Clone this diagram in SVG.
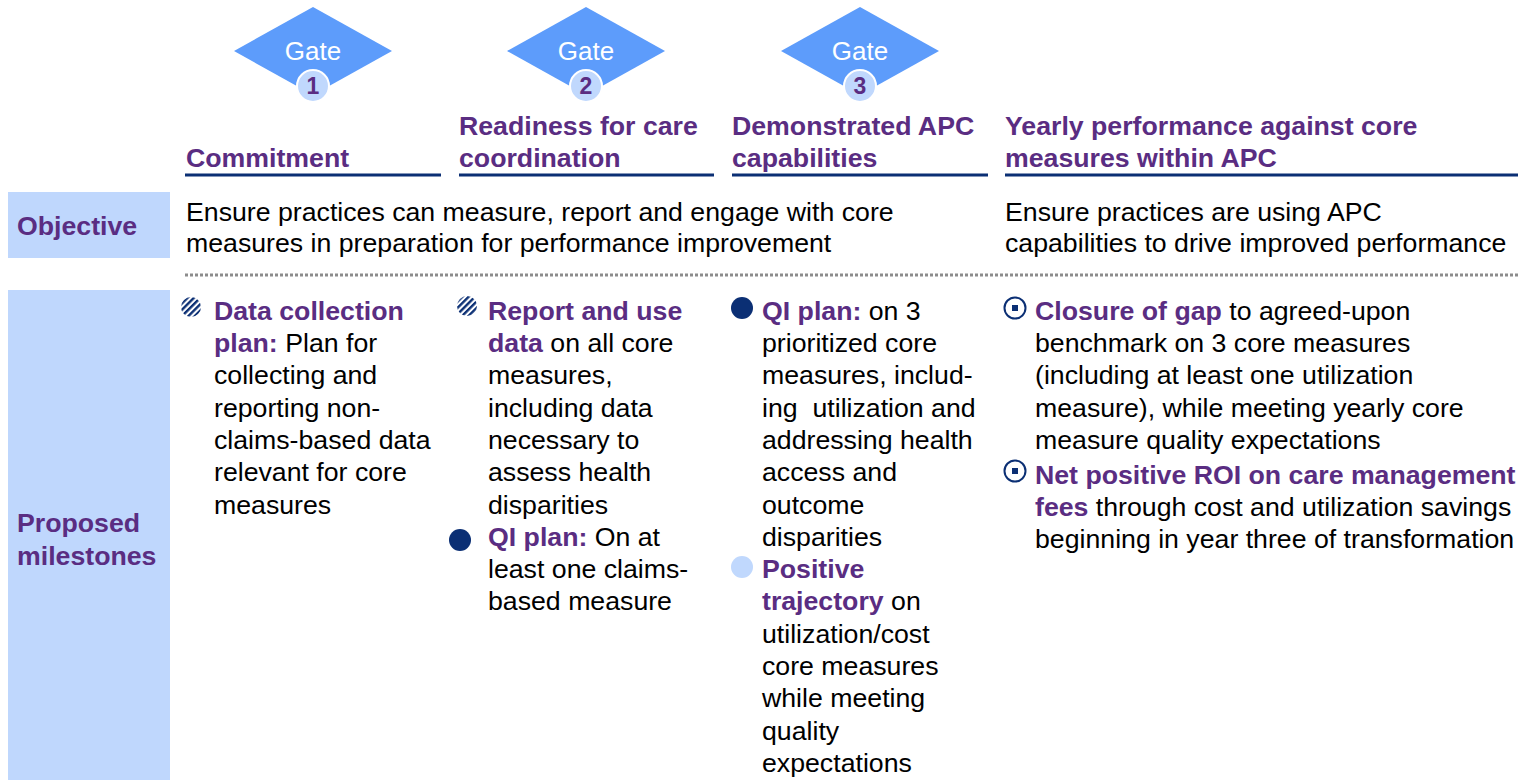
<svg xmlns="http://www.w3.org/2000/svg" width="1518" height="780" viewBox="0 0 1518 780">
  <style>
    text { font-family: "Liberation Sans", Arial, sans-serif; font-size: 26.7px; fill: #000; }
    .b { font-weight: bold; fill: #5a2d82; }
    .gate { fill: #5d9cfb; }
    .gtxt { fill: #fff; font-size: 26px; text-anchor: middle; }
    .num { fill: #c0d8fd; stroke: #fff; stroke-width: 2; }
    .ntxt { font-weight: bold; fill: #5a2d82; font-size: 23px; text-anchor: middle; }
    .rule { stroke: #0b2f74; stroke-width: 3; }
    .label { fill: #bfd7fd; }
    .navy { fill: #0b2f74; }
    .light { fill: #c0d8fd; }
  </style>
  <defs>
    <pattern id="hatch" patternUnits="userSpaceOnUse" width="4.5" height="4.5" patternTransform="rotate(45)">
      <rect width="4.5" height="4.5" fill="#fff"/>
      <rect width="2.4" height="4.5" fill="#0b2f74"/>
    </pattern>
  </defs>

  <!-- gates -->
  <g id="gate1">
    <polygon class="gate" points="313,7 392,51 313,95 234,51"/>
    <text class="gtxt" x="313" y="60">Gate</text>
    <circle class="num" cx="313" cy="86" r="16"/>
    <text class="ntxt" x="313" y="94">1</text>
  </g>
  <g id="gate2">
    <polygon class="gate" points="586,7 665,51 586,95 507,51"/>
    <text class="gtxt" x="586" y="60">Gate</text>
    <circle class="num" cx="586" cy="86" r="16"/>
    <text class="ntxt" x="586" y="94">2</text>
  </g>
  <g id="gate3">
    <polygon class="gate" points="860,7 939,51 860,95 781,51"/>
    <text class="gtxt" x="860" y="60">Gate</text>
    <circle class="num" cx="860" cy="86" r="16"/>
    <text class="ntxt" x="860" y="94">3</text>
  </g>

  <!-- column headings -->
  <g id="head1">
    <text class="b" x="186" y="167">Commitment</text>
    <line class="rule" x1="185" y1="175" x2="441" y2="175"/>
  </g>
  <g id="head2">
    <text class="b" x="459" y="135">Readiness for care</text>
    <text class="b" x="459" y="167">coordination</text>
    <line class="rule" x1="459" y1="175" x2="714" y2="175"/>
  </g>
  <g id="head3">
    <text class="b" x="732" y="135">Demonstrated APC</text>
    <text class="b" x="732" y="167">capabilities</text>
    <line class="rule" x1="732" y1="175" x2="988" y2="175"/>
  </g>
  <g id="head4">
    <text class="b" x="1005" y="135">Yearly performance against core</text>
    <text class="b" x="1005" y="167">measures within APC</text>
    <line class="rule" x1="1005" y1="175" x2="1518" y2="175"/>
  </g>

  <!-- row labels -->
  <g id="objective-label">
    <rect class="label" x="8" y="192" width="162" height="66"/>
    <text class="b" x="17" y="235">Objective</text>
  </g>
  <g id="milestones-label">
    <rect class="label" x="8" y="290" width="162" height="490"/>
    <text class="b" x="17" y="532">Proposed</text>
    <text class="b" x="17" y="565">milestones</text>
  </g>

  <!-- objectives -->
  <g id="objective-left">
    <text x="186" y="221">Ensure practices can measure, report and engage with core</text>
    <text x="186" y="252">measures in preparation for performance improvement</text>
  </g>
  <g id="objective-right">
    <text x="1005" y="221">Ensure practices are using APC</text>
    <text x="1005" y="252">capabilities to drive improved performance</text>
  </g>

  <g id="connectors">
    <line x1="185" y1="275" x2="1518" y2="275" stroke="#8c8c8c" stroke-width="3" stroke-dasharray="3,2"/>
  </g>

  <!-- milestone column 1 -->
  <g id="ms1">
    <circle cx="191" cy="307" r="10" fill="url(#hatch)"/>
    <text class="b" x="214" y="320">Data collection</text>
    <text x="214" y="352"><tspan class="b">plan:</tspan> Plan for</text>
    <text x="214" y="384">collecting and</text>
    <text x="214" y="417">reporting non-</text>
    <text x="214" y="449">claims-based data</text>
    <text x="214" y="481">relevant for core</text>
    <text x="214" y="514">measures</text>
  </g>

  <!-- milestone column 2 -->
  <g id="ms2">
    <circle cx="467" cy="306" r="10" fill="url(#hatch)"/>
    <text class="b" x="488" y="320">Report and use</text>
    <text x="488" y="352"><tspan class="b">data</tspan> on all core</text>
    <text x="488" y="384">measures,</text>
    <text x="488" y="417">including data</text>
    <text x="488" y="449">necessary to</text>
    <text x="488" y="481">assess health</text>
    <text x="488" y="514">disparities</text>
    <circle class="navy" cx="460" cy="540" r="11"/>
    <text x="488" y="546"><tspan class="b">QI plan:</tspan> On at</text>
    <text x="488" y="578">least one claims-</text>
    <text x="488" y="610">based measure</text>
  </g>

  <!-- milestone column 3 -->
  <g id="ms3">
    <circle class="navy" cx="742" cy="308" r="11"/>
    <text x="762" y="320"><tspan class="b">QI plan:</tspan> on 3</text>
    <text x="762" y="352">prioritized core</text>
    <text x="762" y="384">measures, includ-</text>
    <text x="762" y="417" xml:space="preserve">ing  utilization and</text>
    <text x="762" y="449">addressing health</text>
    <text x="762" y="481">access and</text>
    <text x="762" y="514">outcome</text>
    <text x="762" y="546">disparities</text>
    <circle class="light" cx="742" cy="567" r="11"/>
    <text class="b" x="762" y="578">Positive</text>
    <text x="762" y="610"><tspan class="b">trajectory</tspan> on</text>
    <text x="762" y="643">utilization/cost</text>
    <text x="762" y="675">core measures</text>
    <text x="762" y="707">while meeting</text>
    <text x="762" y="740">quality</text>
    <text x="762" y="772">expectations</text>
  </g>

  <!-- milestone column 4 -->
  <g id="ms4">
    <circle cx="1015" cy="308" r="10.5" fill="#fff" stroke="#0b2f74" stroke-width="2"/>
    <rect class="navy" x="1012" y="305" width="6" height="6"/>
    <text x="1035" y="320"><tspan class="b">Closure of gap</tspan> to agreed-upon</text>
    <text x="1035" y="352">benchmark on 3 core measures</text>
    <text x="1035" y="384">(including at least one utilization</text>
    <text x="1035" y="417">measure), while meeting yearly core</text>
    <text x="1035" y="449">measure quality expectations</text>
    <circle cx="1015" cy="471" r="10.5" fill="#fff" stroke="#0b2f74" stroke-width="2"/>
    <rect class="navy" x="1012" y="468" width="6" height="6"/>
    <text class="b" x="1035" y="484">Net positive ROI on care management</text>
    <text x="1035" y="516"><tspan class="b">fees</tspan> through cost and utilization savings</text>
    <text x="1035" y="548">beginning in year three of transformation</text>
  </g>
</svg>
